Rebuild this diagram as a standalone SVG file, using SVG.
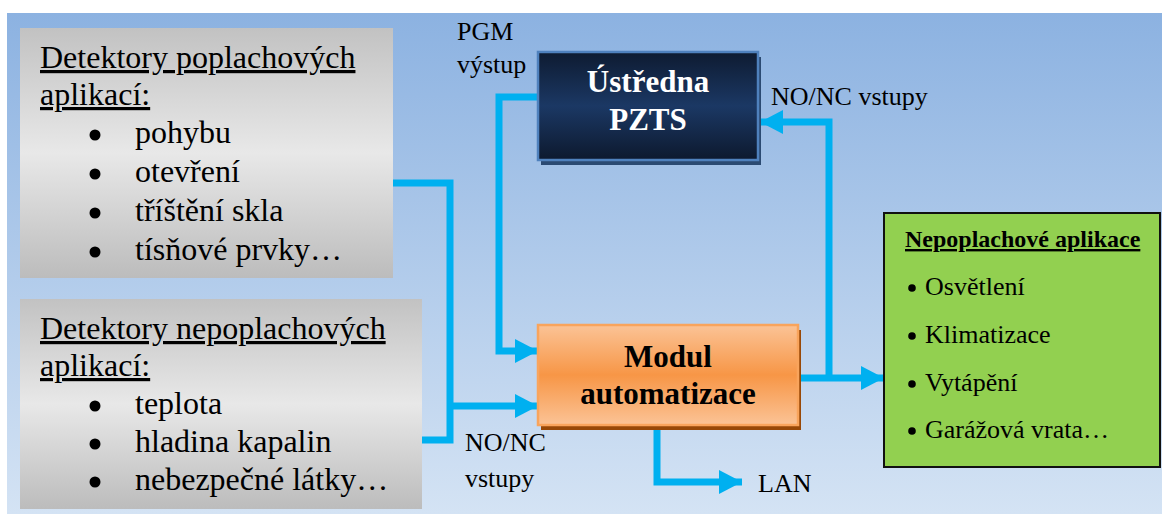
<svg xmlns="http://www.w3.org/2000/svg" width="1162" height="514" viewBox="0 0 1162 514">
  <defs>
    <linearGradient id="bg" x1="0" y1="0" x2="0" y2="1">
      <stop offset="0" stop-color="#8cb2e1"/>
      <stop offset="1" stop-color="#d4e3f4"/>
    </linearGradient>
    <linearGradient id="grey" x1="0" y1="0" x2="0" y2="1">
      <stop offset="0" stop-color="#c2c2c2"/>
      <stop offset="0.5" stop-color="#e8e8e8"/>
      <stop offset="1" stop-color="#bcbcbc"/>
    </linearGradient>
    <linearGradient id="navy" x1="0" y1="0" x2="0" y2="1">
      <stop offset="0" stop-color="#0e1b31"/>
      <stop offset="0.5" stop-color="#1b3864"/>
      <stop offset="1" stop-color="#0d192e"/>
    </linearGradient>
    <linearGradient id="orange" x1="0" y1="0" x2="0" y2="1">
      <stop offset="0" stop-color="#fbc396"/>
      <stop offset="0.5" stop-color="#f79646"/>
      <stop offset="1" stop-color="#fbc396"/>
    </linearGradient>
    <marker id="arrow" viewBox="0 0 23 24" refX="23" refY="12" markerWidth="23" markerHeight="24" markerUnits="userSpaceOnUse" orient="auto">
      <path d="M0,0 L23,12 L0,24 Z" fill="#00b0f0"/>
    </marker>
    <style>
      .txt { font-family: "Liberation Serif", "Times New Roman", serif; fill: #000; }
      .big { font-size: 32px; }
      .lbl { font-size: 26px; }
      .head { font-size: 31px; font-weight: bold; text-anchor: middle; }
      .ul { text-decoration: underline; }
      .dot { fill: #000; }
      .wire { fill: none; stroke: #00b0f0; stroke-width: 7; stroke-linejoin: miter; }
    </style>
  </defs>

  <!-- backdrop -->
  <rect x="7" y="13" width="1155" height="501" fill="url(#bg)"/>

  <!-- connectors -->
  <g id="connectors">
    <path class="wire" d="M393,183 H450 V440 H422"/>
    <path class="wire" d="M450,406 H538" marker-end="url(#arrow)"/>
    <path class="wire" d="M540,97 H499 V351 H538" marker-end="url(#arrow)"/>
    <path class="wire" d="M798,378 H884" marker-end="url(#arrow)"/>
    <path class="wire" d="M829,378 V122 H760" marker-end="url(#arrow)"/>
    <path class="wire" d="M657,425 V482 H742" marker-end="url(#arrow)"/>
  </g>

  <!-- alarm detectors -->
  <g id="alarm-detectors">
    <rect x="20" y="28" width="373" height="250" fill="url(#grey)"/>
    <text class="txt big ul" x="40" y="68">Detektory poplachových</text>
    <text class="txt big ul" x="40" y="105">aplikací:</text>
    <g class="dot">
      <circle cx="95" cy="135" r="5.5"/>
      <circle cx="95" cy="174" r="5.5"/>
      <circle cx="95" cy="213" r="5.5"/>
      <circle cx="95" cy="252" r="5.5"/>
    </g>
    <g class="txt big">
      <text x="135" y="143">pohybu</text>
      <text x="135" y="182">otevření</text>
      <text x="135" y="221">tříštění skla</text>
      <text x="135" y="260">tísňové prvky…</text>
    </g>
  </g>

  <!-- non-alarm detectors -->
  <g id="nonalarm-detectors">
    <rect x="20" y="299" width="402" height="210" fill="url(#grey)"/>
    <text class="txt big ul" x="40" y="339">Detektory nepoplachových</text>
    <text class="txt big ul" x="40" y="376">aplikací:</text>
    <g class="dot">
      <circle cx="95" cy="406" r="5.5"/>
      <circle cx="95" cy="444" r="5.5"/>
      <circle cx="95" cy="482" r="5.5"/>
    </g>
    <g class="txt big">
      <text x="135" y="414">teplota</text>
      <text x="135" y="452">hladina kapalin</text>
      <text x="135" y="490">nebezpečné látky…</text>
    </g>
  </g>

  <!-- alarm control panel -->
  <g id="pzts">
    <rect x="541" y="57" width="220" height="108" fill="#2b4a72"/>
    <rect x="538" y="52" width="220" height="108" fill="url(#navy)" stroke="#4f81bd" stroke-width="2.5"/>
    <text class="txt head" x="648" y="92" style="fill:#fff">Ústředna</text>
    <text class="txt head" x="648" y="130" style="fill:#fff">PZTS</text>
  </g>

  <!-- automation module -->
  <g id="modul">
    <rect x="541" y="330" width="260" height="100" fill="#984807"/>
    <rect x="538" y="325" width="260" height="100" fill="url(#orange)" stroke="#f9a45c" stroke-width="2.5"/>
    <text class="txt head" x="668" y="367">Modul</text>
    <text class="txt head" x="668" y="404">automatizace</text>
  </g>

  <!-- non-alarm applications -->
  <g id="applications">
    <rect x="884" y="213" width="276" height="254" fill="#92d050" stroke="#111" stroke-width="2"/>
    <text class="txt ul" x="905" y="247" style="font-size:24px;font-weight:bold">Nepoplachové aplikace</text>
    <g class="dot">
      <circle cx="912" cy="288" r="3.8"/>
      <circle cx="912" cy="336" r="3.8"/>
      <circle cx="912" cy="384" r="3.8"/>
      <circle cx="912" cy="431" r="3.8"/>
    </g>
    <g class="txt lbl">
      <text x="925" y="295">Osvětlení</text>
      <text x="925" y="343">Klimatizace</text>
      <text x="925" y="391">Vytápění</text>
      <text x="925" y="438">Garážová vrata…</text>
    </g>
  </g>

  <!-- connector labels -->
  <g id="labels" class="txt lbl">
    <text x="457" y="40">PGM</text>
    <text x="457" y="73">výstup</text>
    <text x="771" y="105">NO/NC vstupy</text>
    <text x="465" y="451">NO/NC</text>
    <text x="465" y="487">vstupy</text>
    <text x="758" y="492">LAN</text>
  </g>
</svg>
